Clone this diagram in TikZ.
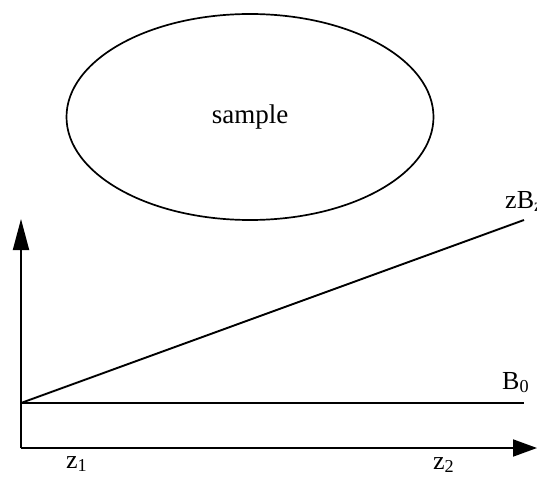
\documentclass[tikz,border=0pt]{standalone}
\usepackage{fontspec}
\setmainfont{Liberation Serif}
\usetikzlibrary{shapes.geometric,arrows.meta}
\tikzset{
  axisline/.style={line width=1.9pt},
  plotline/.style={line width=1.9pt},
  lbl/.style={inner sep=0pt, anchor=base west, font=\fontsize{26}{30}\selectfont}
}
\begin{document}
\begin{tikzpicture}[x=1pt,y=-1pt]
\useasboundingbox (0,0) rectangle (537,478);
\node[draw, ellipse, line width=1.7pt, minimum width=367pt, minimum height=206pt, inner sep=0pt,
      font=\fontsize{27}{30}\selectfont] (sample) at (250,117) {sample};
\coordinate (O) at (21,448);
\coordinate (ytop) at (21,219);
\coordinate (xend) at (537,448);
\coordinate (b0s) at (21,403);
\coordinate (b0e) at (524,403);
\coordinate (zbe) at (524,220);
\draw[axisline, -{Triangle[length=31pt,width=16pt]}] (O) -- (ytop);
\draw[axisline, -{Triangle[length=24pt,width=17pt]}] (O) -- (xend);
\draw[plotline] (b0s) -- (b0e);
\draw[plotline] (b0s) -- (zbe);
\node[lbl] (zbz) at (505,208) {zB\textsubscript{z}};
\node[lbl] (b0) at (502,389) {B\textsubscript{0}};
\node[lbl] (z1) at (66,468) {z\textsubscript{1}};
\node[lbl] (z2) at (433,469) {z\textsubscript{2}};
\end{tikzpicture}
\end{document}
